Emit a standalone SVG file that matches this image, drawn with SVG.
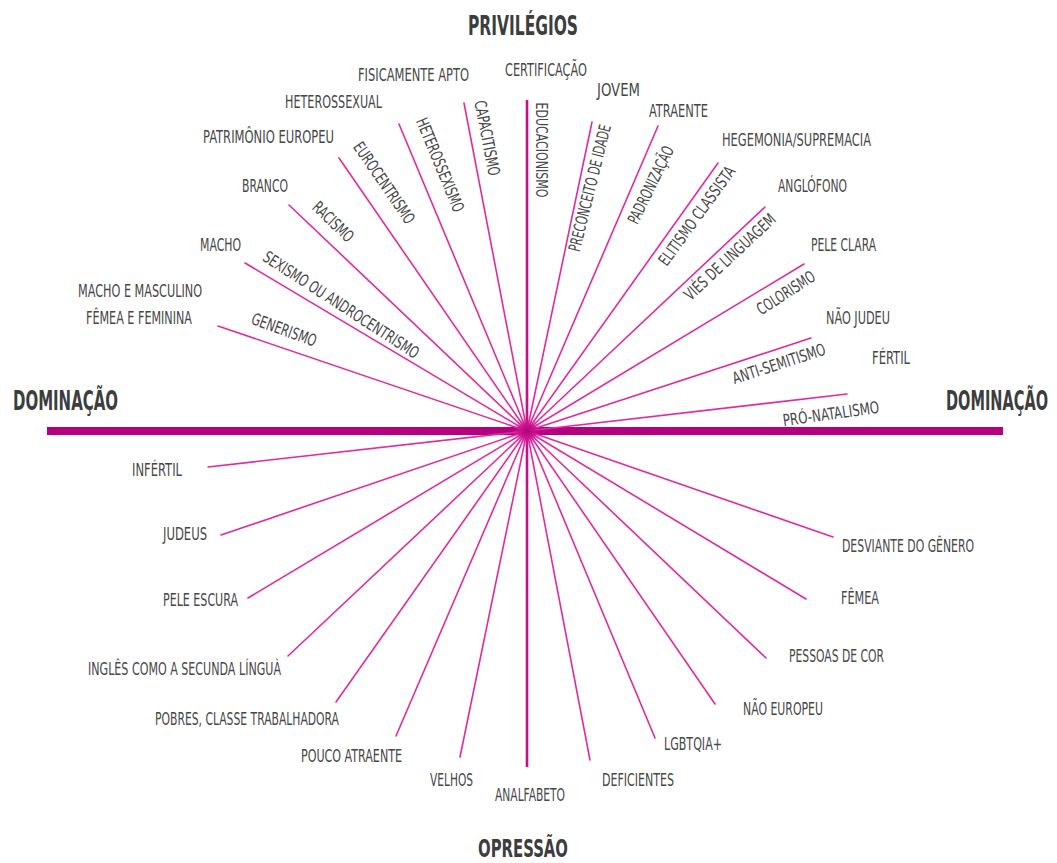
<svg xmlns="http://www.w3.org/2000/svg" width="1057" height="863" viewBox="0 0 1057 863">
<defs>
<style>
.t{font-family:"Liberation Sans Narrow","DejaVu Sans Condensed","Liberation Sans",sans-serif;font-size:17.5px;fill:#474747}
.r{font-family:"Liberation Sans Narrow","DejaVu Sans Condensed","Liberation Sans",sans-serif;font-size:16.5px;fill:#474747}
.h{font-family:"Liberation Sans Narrow","DejaVu Sans Condensed","Liberation Sans",sans-serif;font-size:27px;font-weight:bold;fill:#3d3d3d}
.d{font-family:"Liberation Sans Narrow","DejaVu Sans Condensed","Liberation Sans",sans-serif;font-size:17px;font-weight:bold;fill:#3d3d3d}
.ray{stroke:#e12a9f;stroke-width:1.6;fill:none;stroke-linecap:round}
.axis{stroke:#c4108a;stroke-width:2.6;fill:none}
.dom{stroke:#b5007f;stroke-width:8;fill:none}
</style>
<radialGradient id="blob">
<stop offset="0" stop-color="#b0007c" stop-opacity="1"/>
<stop offset="0.5" stop-color="#c0108a" stop-opacity="0.8"/>
<stop offset="1" stop-color="#e0259c" stop-opacity="0"/>
</radialGradient>
</defs>
<rect width="1057" height="863" fill="#ffffff"/>

<g id="connectors">
<line class="dom" x1="47" y1="431" x2="1003" y2="431"/>
<line class="axis" x1="527" y1="431" x2="527" y2="100"/>
<line class="axis" x1="527" y1="431" x2="527" y2="767"/>
<line class="ray" x1="527" y1="431" x2="218" y2="326"/>
<line class="ray" x1="527" y1="431" x2="245" y2="263"/>
<line class="ray" x1="527" y1="431" x2="289" y2="205"/>
<line class="ray" x1="527" y1="431" x2="339" y2="158"/>
<line class="ray" x1="527" y1="431" x2="399" y2="124"/>
<line class="ray" x1="527" y1="431" x2="464" y2="103"/>
<line class="ray" x1="527" y1="431" x2="592" y2="122"/>
<line class="ray" x1="527" y1="431" x2="658" y2="126"/>
<line class="ray" x1="527" y1="431" x2="718" y2="163"/>
<line class="ray" x1="527" y1="431" x2="765" y2="207"/>
<line class="ray" x1="527" y1="431" x2="804" y2="264"/>
<line class="ray" x1="527" y1="431" x2="811" y2="338"/>
<line class="ray" x1="527" y1="431" x2="847" y2="394"/>
<line class="ray" x1="527" y1="431" x2="208" y2="467"/>
<line class="ray" x1="527" y1="431" x2="221" y2="535"/>
<line class="ray" x1="527" y1="431" x2="248" y2="598"/>
<line class="ray" x1="527" y1="431" x2="288" y2="656"/>
<line class="ray" x1="527" y1="431" x2="336" y2="702"/>
<line class="ray" x1="527" y1="431" x2="396" y2="736"/>
<line class="ray" x1="527" y1="431" x2="460" y2="757"/>
<line class="ray" x1="527" y1="431" x2="590" y2="760"/>
<line class="ray" x1="527" y1="431" x2="655" y2="738"/>
<line class="ray" x1="527" y1="431" x2="715" y2="704"/>
<line class="ray" x1="527" y1="431" x2="766" y2="658"/>
<line class="ray" x1="527" y1="431" x2="806" y2="599"/>
<line class="ray" x1="527" y1="431" x2="833" y2="537"/>
<circle cx="527" cy="431" r="14" fill="url(#blob)"/>
</g>

<g id="titles">
<text id="privilegios" class="h" x="468" y="35" textLength="110" lengthAdjust="spacingAndGlyphs">PRIVILÉGIOS</text>
<text id="opressao" class="h" x="478" y="857" textLength="90" lengthAdjust="spacingAndGlyphs" style="font-size:24px">OPRESSÃO</text>
<text id="dominacao-esq" class="d" transform="translate(13,410) scale(1,1.55)" x="0" y="0" textLength="105" lengthAdjust="spacingAndGlyphs">DOMINAÇÃO</text>
<text id="dominacao-dir" class="d" transform="translate(946,410) scale(1,1.55)" x="0" y="0" textLength="102" lengthAdjust="spacingAndGlyphs">DOMINAÇÃO</text>
</g>

<g id="n-certificacao"><text class="t" x="505" y="76" textLength="82" lengthAdjust="spacingAndGlyphs">CERTIFICAÇÃO</text>
<text class="r" transform="translate(541,150) rotate(90)" x="0" y="5.5" text-anchor="middle" textLength="95" lengthAdjust="spacingAndGlyphs">EDUCACIONISMO</text></g>
<g id="n-apto"><text class="t" x="358" y="81" textLength="111" lengthAdjust="spacingAndGlyphs">FISICAMENTE APTO</text>
<text class="r" transform="translate(487,138) rotate(79)" x="0" y="5.5" text-anchor="middle" textLength="76" lengthAdjust="spacingAndGlyphs">CAPACITISMO</text></g>
<g id="n-heterossexual"><text class="t" x="285" y="108" textLength="97" lengthAdjust="spacingAndGlyphs">HETEROSSEXUAL</text>
<text class="r" transform="translate(440,165) rotate(67.5)" x="0" y="5.5" text-anchor="middle" textLength="100" lengthAdjust="spacingAndGlyphs">HETEROSSEXISMO</text></g>
<g id="n-patrimonio"><text class="t" x="203" y="143" textLength="131" lengthAdjust="spacingAndGlyphs">PATRIMÔNIO EUROPEU</text>
<text class="r" transform="translate(384,183) rotate(55.5)" x="0" y="5.5" text-anchor="middle" textLength="95" lengthAdjust="spacingAndGlyphs">EUROCENTRISMO</text></g>
<g id="n-branco"><text class="t" x="242" y="192" textLength="46" lengthAdjust="spacingAndGlyphs">BRANCO</text>
<text class="r" transform="translate(333,222) rotate(44)" x="0" y="5.5" text-anchor="middle" textLength="50" lengthAdjust="spacingAndGlyphs">RACISMO</text></g>
<g id="n-macho"><text class="t" x="200" y="251" textLength="41" lengthAdjust="spacingAndGlyphs">MACHO</text>
<text class="r" transform="translate(341,305) rotate(33)" x="0" y="5.5" text-anchor="middle" textLength="182" lengthAdjust="spacingAndGlyphs">SEXISMO OU ANDROCENTRISMO</text></g>
<g id="n-genero"><text class="t" x="78" y="297" textLength="124" lengthAdjust="spacingAndGlyphs">MACHO E MASCULINO</text>
<text class="t" x="86" y="324" textLength="106" lengthAdjust="spacingAndGlyphs">FÊMEA E FEMININA</text>
<text class="r" transform="translate(284,330) rotate(20)" x="0" y="5.5" text-anchor="middle" textLength="68" lengthAdjust="spacingAndGlyphs">GENERISMO</text></g>

<g id="n-jovem"><text class="t" x="597" y="96" textLength="43" lengthAdjust="spacingAndGlyphs">JOVEM</text>
<text class="r" transform="translate(590,188) rotate(-76)" x="0" y="5.5" text-anchor="middle" textLength="130" lengthAdjust="spacingAndGlyphs">PRECONCEITO DE IDADE</text></g>
<g id="n-atraente"><text class="t" x="649" y="117" textLength="59" lengthAdjust="spacingAndGlyphs">ATRAENTE</text>
<text class="r" transform="translate(651,185) rotate(-64)" x="0" y="5.5" text-anchor="middle" textLength="84" lengthAdjust="spacingAndGlyphs">PADRONIZAÇÃO</text></g>
<g id="n-hegemonia"><text class="t" x="722" y="146" textLength="149" lengthAdjust="spacingAndGlyphs">HEGEMONIA/SUPREMACIA</text>
<text class="r" transform="translate(697,216) rotate(-54)" x="0" y="5.5" text-anchor="middle" textLength="118" lengthAdjust="spacingAndGlyphs">ELITISMO CLASSISTA</text></g>
<g id="n-anglofono"><text class="t" x="778" y="192" textLength="69" lengthAdjust="spacingAndGlyphs">ANGLÓFONO</text>
<text class="r" transform="translate(730,257) rotate(-43)" x="0" y="5.5" text-anchor="middle" textLength="118" lengthAdjust="spacingAndGlyphs">VIÉS DE LINGUAGEM</text></g>
<g id="n-pele-clara"><text class="t" x="811" y="251" textLength="65" lengthAdjust="spacingAndGlyphs">PELE CLARA</text>
<text class="r" transform="translate(786,293) rotate(-33)" x="0" y="5.5" text-anchor="middle" textLength="66" lengthAdjust="spacingAndGlyphs">COLORISMO</text></g>
<g id="n-nao-judeu"><text class="t" x="826" y="324" textLength="64" lengthAdjust="spacingAndGlyphs">NÃO JUDEU</text>
<text class="r" transform="translate(779,364) rotate(-18)" x="0" y="5.5" text-anchor="middle" textLength="97" lengthAdjust="spacingAndGlyphs">ANTI-SEMITISMO</text></g>
<g id="n-fertil"><text class="t" x="872" y="364" textLength="38" lengthAdjust="spacingAndGlyphs">FÉRTIL</text>
<text class="r" transform="translate(831,414) rotate(-8)" x="0" y="5.5" text-anchor="middle" textLength="97" lengthAdjust="spacingAndGlyphs">PRÓ-NATALISMO</text></g>

<g id="n-infertil"><text class="t" x="132" y="476" textLength="50" lengthAdjust="spacingAndGlyphs">INFÉRTIL</text></g>
<g id="n-judeus"><text class="t" x="163" y="540" textLength="44" lengthAdjust="spacingAndGlyphs">JUDEUS</text></g>
<g id="n-pele-escura"><text class="t" x="163" y="606" textLength="75" lengthAdjust="spacingAndGlyphs">PELE ESCURA</text></g>
<g id="n-ingles"><text class="t" x="88" y="675" textLength="193" lengthAdjust="spacingAndGlyphs">INGLÊS COMO A SECUNDA LÍNGUÀ</text></g>
<g id="n-pobres"><text class="t" x="155" y="725" textLength="184" lengthAdjust="spacingAndGlyphs">POBRES, CLASSE TRABALHADORA</text></g>
<g id="n-pouco-atraente"><text class="t" x="301" y="762" textLength="101" lengthAdjust="spacingAndGlyphs">POUCO ATRAENTE</text></g>
<g id="n-velhos"><text class="t" x="430" y="786" textLength="43" lengthAdjust="spacingAndGlyphs">VELHOS</text></g>
<g id="n-analfabeto"><text class="t" x="495" y="801" textLength="70" lengthAdjust="spacingAndGlyphs">ANALFABETO</text></g>
<g id="n-deficientes"><text class="t" x="602" y="786" textLength="72" lengthAdjust="spacingAndGlyphs">DEFICIENTES</text></g>
<g id="n-lgbtqia"><text class="t" x="664" y="750" textLength="58" lengthAdjust="spacingAndGlyphs">LGBTQIA+</text></g>
<g id="n-nao-europeu"><text class="t" x="743" y="715" textLength="80" lengthAdjust="spacingAndGlyphs">NÃO EUROPEU</text></g>
<g id="n-pessoas-cor"><text class="t" x="789" y="662" textLength="95" lengthAdjust="spacingAndGlyphs">PESSOAS DE COR</text></g>
<g id="n-femea"><text class="t" x="841" y="604" textLength="38" lengthAdjust="spacingAndGlyphs">FÊMEA</text></g>
<g id="n-desviante"><text class="t" x="842" y="552" textLength="132" lengthAdjust="spacingAndGlyphs">DESVIANTE DO GÊNERO</text></g>
</svg>
